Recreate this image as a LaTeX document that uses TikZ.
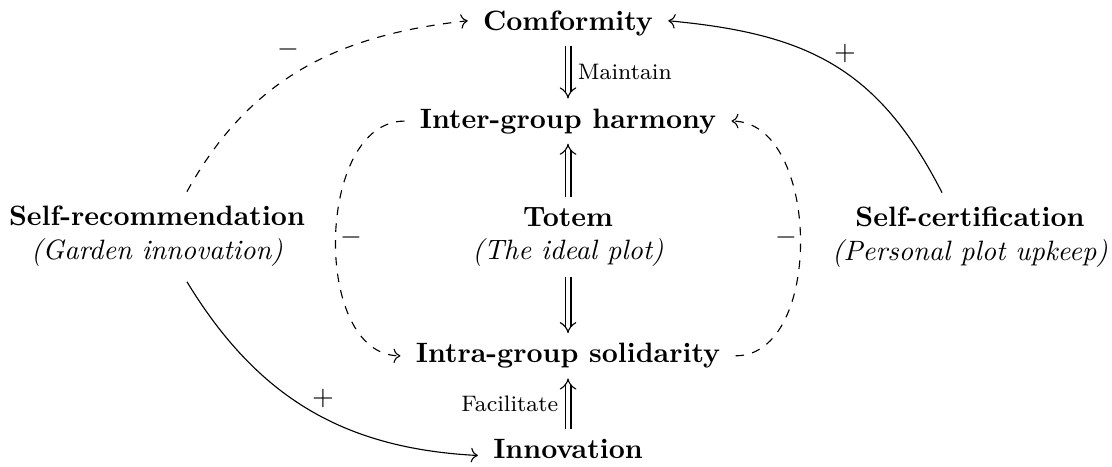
\documentclass[tikz,border=0pt]{standalone}
\usetikzlibrary{arrows.meta}
\begin{document}
\begin{tikzpicture}[x=0.35714pt,y=-0.35714pt,
  main/.style={font=\bfseries, inner xsep=5.3pt, inner ysep=3.4pt},
  two/.style={align=center, inner xsep=5.3pt, inner ysep=3.4pt},
  dbl/.style={double, double distance=1.7pt, -{Implies}},
  lab/.style={font=\footnotesize},
  sign/.style={inner sep=0pt}]
\useasboundingbox (0,0) rectangle (1112,466);
\node[main, anchor=base] (comf) at (568,30) {Comformity};
\node[main, anchor=base] (inter) at (568,128) {Inter-group harmony};
\node[two] (totem) at (568,237) {\textbf{Totem}\\\textit{(The ideal plot)}};
\node[main, anchor=base] (intra) at (568,362.7) {Intra-group solidarity};
\node[main, anchor=base] (innov) at (568,458) {Innovation};
\node[two] (sr) at (157,236) {\textbf{Self-recommendation}\\\textit{(Garden innovation)}};
\node[two] (sc) at (970,237) {\textbf{Self-certification}\\\textit{(Personal plot upkeep)}};

\draw[dbl] (comf) -- node[right,lab]{Maintain} (inter);
\draw[dbl] (totem) -- (inter);
\draw[dbl] (totem) -- (intra);
\draw[dbl] (innov) -- node[left,lab]{Facilitate} (intra);

\draw[dashed,->] (inter.west) to[out=180,in=180,looseness=0.97] (intra.west);
\draw[dashed,->] (intra.east) to[out=0,in=0,looseness=0.97] (inter.east);
\draw[dashed,->] ([xshift=10.7pt,yshift=1.5pt]sr.north) .. controls +(63,-114) and +(-129,14) .. ([yshift=0.8pt]comf.west);
\draw[->] ([xshift=-10pt,yshift=1.5pt]sc.north) .. controls +(-64,-125) and +(139,13) .. ([yshift=0.8pt]comf.east);
\draw[->] ([xshift=10.7pt,yshift=-2pt]sr.south) .. controls +(70,115) and +(-135,-7) .. ([yshift=-2.5pt]innov.west);

\node[sign] (m1) at (288,49) {$-$};
\node[sign] (m2) at (351,237) {$-$};
\node[sign] (m3) at (786,237) {$-$};
\node[sign] (p1) at (845,53) {$+$};
\node[sign] (p2) at (323,398) {$+$};
\end{tikzpicture}
\end{document}
